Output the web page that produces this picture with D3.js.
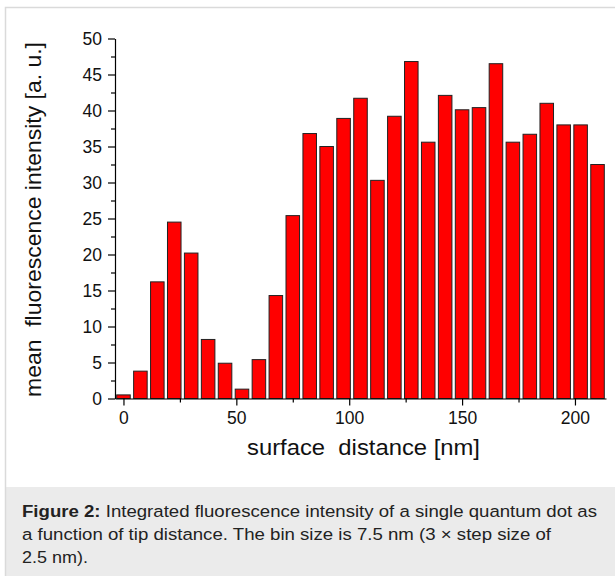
<!DOCTYPE html>
<html><head><meta charset="utf-8">
<script src="https://cdn.jsdelivr.net/npm/d3@7"></script>
<style>
body{margin:0;background:#fff;font-family:"Liberation Sans",Arial,sans-serif;}
</style></head><body>
<svg id="chart" width="615" height="576" style="position:absolute;left:0;top:0"></svg>
<script>
const binCenters = [0,7.5,15,22.5,30,37.5,45,52.5,60,67.5,75,82.5,90,97.5,105,112.5,120,127.5,135,142.5,150,157.5,165,172.5,180,187.5,195,202.5,210];
const intensity = [0.5,3.8,16.2,24.5,20.2,8.2,4.9,1.3,5.4,14.3,25.4,36.8,35.0,38.9,41.7,30.3,39.2,46.8,35.6,42.1,40.1,40.4,46.5,35.6,36.7,41.0,38.0,38.0,32.5];
const xTicks = [0,50,100,150,200];
const xMinor = [25,75,125,175];
const yTicks = [0,5,10,15,20,25,30,35,40,45,50];
const yMinor = [2.5,7.5,12.5,17.5,22.5,27.5,32.5,37.5,42.5,47.5];
const binWidth = 7.5;
const xTitle = "surface  distance [nm]";
const yTitle = "mean  fluorescence intensity [a. u.]";
const captionLines = [
  ["Figure 2:", " Integrated fluorescence intensity of a single quantum dot as"],
  ["", "a function of tip distance. The bin size is 7.5 nm (3 × step size of"],
  ["", "2.5 nm)."]
];
const captionWidths = [575, 529, 66];

const svg = d3.select("#chart");
const FONT = "Liberation Sans, Arial, sans-serif";

// caption panel
svg.append("rect").attr("x",5).attr("y",487).attr("width",615).attr("height",100).attr("fill","#ebebeb");
// outer border
svg.append("path").attr("d","M5.5,576 V7.5 H615").attr("fill","none").attr("stroke","#dadada").attr("stroke-width",1.5);

const x = d3.scaleLinear().domain([-3.75,213.75]).range([115,606]);
const y = d3.scaleLinear().domain([0,50]).range([398.5,38.5]);

svg.append("g").selectAll("rect.bar").data(intensity).enter().append("rect")
  .attr("class","bar")
  .attr("x",(d,i)=>x(binCenters[i]-binWidth*0.4))
  .attr("width",(d,i)=>x(binCenters[i]+binWidth*0.4)-x(binCenters[i]-binWidth*0.4))
  .attr("y",d=>y(d))
  .attr("height",d=>y(0)-y(d))
  .attr("fill","#ff0000").attr("stroke","#222").attr("stroke-width",1);

// x axis
svg.append("g").attr("transform",`translate(0,${y(0)})`)
  .call(d3.axisBottom(x).tickValues(xTicks).tickSize(7).tickPadding(6).tickSizeOuter(0));
svg.append("g").attr("transform",`translate(0,${y(0)})`)
  .call(d3.axisBottom(x).tickValues(xMinor).tickSize(4).tickFormat("").tickSizeOuter(0))
  .select(".domain").remove();
// y axis
svg.append("g").attr("transform",`translate(${x.range()[0]},0)`)
  .call(d3.axisLeft(y).tickValues(yTicks).tickSize(7).tickPadding(6).tickSizeOuter(0));
svg.append("g").attr("transform",`translate(${x.range()[0]},0)`)
  .call(d3.axisLeft(y).tickValues(yMinor).tickSize(4).tickFormat("").tickSizeOuter(0))
  .select(".domain").remove();
svg.selectAll(".tick line, .domain").attr("stroke","#000").attr("stroke-width",1.2);
svg.selectAll(".tick text").attr("font-size","17.5px").attr("fill","#111").attr("font-family",FONT);

svg.append("text").attr("x",363.5).attr("y",455).attr("text-anchor","middle")
  .attr("font-size","21.5px").attr("font-family",FONT).attr("fill","#111")
  .attr("xml:space","preserve").style("white-space","pre")
  .attr("textLength",233).attr("lengthAdjust","spacingAndGlyphs").text(xTitle);
svg.append("text").attr("transform",`translate(40.5,219.5) rotate(-90)`).attr("text-anchor","middle")
  .attr("font-size","22px").attr("font-family",FONT).attr("fill","#111")
  .attr("xml:space","preserve").style("white-space","pre")
  .attr("textLength",355).attr("lengthAdjust","spacingAndGlyphs").text(yTitle);

// caption
const baselines = [517, 540, 563];
captionLines.forEach((ln,i)=>{
  const t = svg.append("text").attr("x",22).attr("y",baselines[i])
    .attr("font-size","16.8px").attr("font-family",FONT).attr("fill","#222")
    .attr("textLength",captionWidths[i]).attr("lengthAdjust","spacingAndGlyphs");
  if (ln[0]) t.append("tspan").attr("font-weight","bold").text(ln[0]);
  t.append("tspan").text(ln[1]);
});
</script>
</body></html>
